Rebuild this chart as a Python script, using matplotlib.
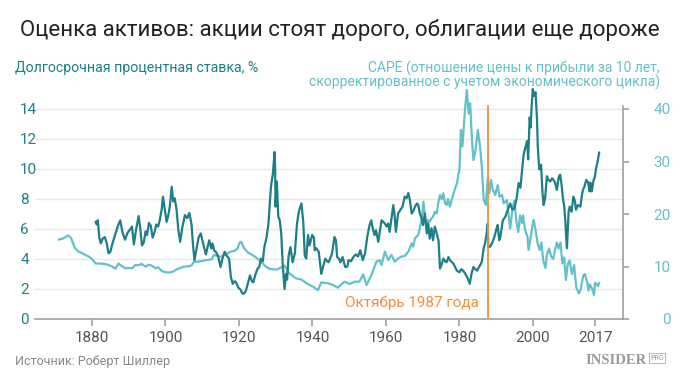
import matplotlib
matplotlib.use('Agg')
import matplotlib.pyplot as plt

DARK = '#1d7f87'
LIGHT = '#62c1ca'
ORANGE = '#f0913a'

TITLE = 'Оценка активов: акции стоят дорого, облигации еще дороже'
LEFT_LABEL = 'Долгосрочная процентная ставка, %'
RIGHT_LABEL_1 = 'CAPE (отношение цены к прибыли за 10 лет,'
RIGHT_LABEL_2 = 'скорректированное с учетом экономического цикла)'
EVENT_LABEL = 'Октябрь 1987 года'
SOURCE = 'Источник: Роберт Шиллер'

# CAPE (drawn dark, right axis)
cape_years = [
    1881.0, 1881.3, 1881.6, 1882.0, 1882.4, 1882.9, 1883.5, 1884.0, 1884.5, 1885.0,
    1885.5, 1886.2, 1887.0, 1887.7, 1888.3, 1889.0, 1889.6, 1890.3, 1890.9, 1891.4,
    1892.0, 1892.7, 1893.1, 1893.6, 1894.1, 1894.6, 1895.0, 1895.5, 1896.0, 1896.5,
    1897.0, 1897.5, 1898.0, 1898.5, 1899.0, 1899.3, 1899.8, 1900.3, 1900.7, 1901.2,
    1901.7, 1902.1, 1902.5, 1903.0, 1903.5, 1904.0, 1904.6, 1905.3, 1905.9, 1906.5,
    1907.1, 1907.5, 1907.9, 1908.5, 1909.0, 1909.6, 1910.1, 1910.6, 1911.0, 1911.5,
    1911.9, 1912.5, 1912.8, 1913.3, 1913.7, 1914.3, 1915.0, 1915.5, 1916.1, 1916.7,
    1917.3, 1917.8, 1918.3, 1918.8, 1919.2, 1919.8, 1920.4, 1921.0, 1921.5, 1921.9,
    1922.5, 1923.0, 1923.5, 1923.9, 1924.5, 1925.0, 1925.5, 1926.0, 1926.5, 1926.9,
    1927.5, 1928.0, 1928.7, 1929.2, 1929.7, 1929.85, 1929.95, 1930.3, 1930.7, 1931.1,
    1931.5, 1931.9, 1932.4, 1932.8, 1933.1, 1933.5, 1934.0, 1934.6, 1935.2, 1935.8,
    1936.3, 1937.0, 1937.5, 1937.9, 1938.3, 1938.8, 1939.2, 1939.9, 1940.4, 1940.6,
    1941.0, 1941.7, 1942.4, 1942.9, 1943.5, 1944.0, 1944.4, 1945.3, 1946.0, 1946.4,
    1946.7, 1947.2, 1947.6, 1948.2, 1948.9, 1949.5, 1949.8, 1950.5, 1951.2, 1951.8,
    1952.4, 1953.0, 1953.7, 1954.3, 1954.9, 1955.5, 1956.0, 1956.3, 1956.9, 1957.3,
    1957.9, 1958.8, 1959.7, 1960.2, 1960.6, 1961.0, 1962.0, 1962.3, 1962.7, 1963.3,
    1964.5, 1965.1, 1965.6, 1966.1, 1966.5, 1967.0, 1967.4, 1967.9, 1968.4, 1968.8,
    1969.2, 1969.7, 1970.1, 1970.6, 1971.1, 1971.5, 1971.9, 1972.4, 1972.8, 1973.3,
    1973.8, 1974.3, 1974.7, 1975.2, 1975.6, 1976.1, 1976.5, 1977.0, 1977.4, 1978.4,
    1979.3, 1980.0, 1980.5, 1981.0, 1981.6, 1982.2, 1982.8, 1983.3, 1983.8, 1984.3,
    1984.8, 1985.3, 1985.7, 1986.1, 1986.6, 1987.0, 1987.4, 1987.7, 1987.85, 1988.4,
    1988.9, 1989.5, 1990.0, 1990.4, 1990.8, 1991.1, 1991.8, 1992.5, 1993.0, 1993.8,
    1994.4, 1994.9, 1995.5, 1996.1, 1996.6, 1997.0, 1997.5, 1997.9, 1998.4, 1998.7,
    1999.1, 1999.4, 1999.6, 1999.95, 2000.3, 2000.7, 2001.1, 2001.3, 2001.7, 2002.2,
    2002.6, 2002.9, 2003.3, 2003.8, 2004.2, 2004.7, 2005.2, 2005.6, 2006.0, 2006.5,
    2007.0, 2007.4, 2007.8, 2008.1, 2008.5, 2008.8, 2009.0, 2009.25, 2009.7, 2010.0,
    2010.5, 2011.0, 2011.4, 2011.7, 2012.2, 2012.9, 2013.3, 2013.6, 2014.0, 2014.5,
    2015.0, 2015.4, 2015.6, 2016.0, 2016.5, 2016.8, 2017.2, 2017.6, 2018.0,
]
cape_values = [
    18.5, 18.0, 18.8, 15.5, 14.4, 15.3, 15.6, 14.5, 12.5, 12.8,
    14.2, 15.8, 17.6, 18.8, 16.5, 15.1, 16.3, 17.0, 17.6, 14.2,
    17.0, 19.6, 17.5, 14.0, 14.6, 16.7, 16.0, 18.3, 17.8, 15.5,
    16.5, 18.0, 17.6, 19.0, 21.0, 23.3, 21.0, 18.5, 19.5, 21.5,
    25.2, 22.4, 23.0, 21.0, 17.0, 14.7, 17.5, 19.8, 19.2, 20.2,
    18.0, 14.0, 11.2, 13.5, 15.5, 16.3, 14.8, 13.4, 12.3, 13.8,
    15.0, 13.4, 14.4, 13.0, 12.8, 12.0, 9.9, 11.5, 12.8, 12.0,
    11.5, 8.0, 6.7, 7.2, 7.0, 6.0, 5.6, 4.8, 4.9, 5.4,
    7.0, 8.3, 7.2, 7.0, 8.5, 9.5, 9.9, 11.5, 11.0, 13.7,
    15.5, 18.0, 25.2, 27.5, 31.8, 28.5, 21.4, 26.2, 19.5, 18.8,
    16.3, 10.5, 5.7, 8.6, 7.5, 12.0, 13.7, 10.8, 12.5, 18.2,
    20.5, 22.0, 18.5, 12.1, 11.5, 16.0, 14.0, 16.0, 15.5, 13.1,
    13.5, 12.8, 8.6, 10.0, 11.5, 11.0, 10.8, 12.4, 15.6, 15.0,
    11.8, 11.5, 10.8, 11.8, 9.9, 10.0, 11.2, 11.0, 11.9, 12.3,
    11.9, 13.1, 11.2, 12.5, 15.6, 17.8, 18.8, 17.6, 16.0, 16.9,
    14.7, 18.8, 18.2, 17.6, 18.2, 16.6, 21.7, 20.1, 16.6, 20.1,
    21.4, 23.3, 23.0, 24.0, 22.7, 20.1, 20.5, 21.4, 22.0, 21.7,
    20.1, 19.2, 17.9, 20.1, 16.3, 18.2, 15.3, 17.3, 15.0, 17.6,
    16.3, 15.0, 9.6, 10.5, 11.5, 11.0, 10.8, 11.8, 11.2, 10.5,
    9.2, 8.9, 9.5, 9.2, 8.6, 7.8, 6.7, 8.7, 9.9, 9.5,
    9.2, 9.9, 10.3, 11.0, 13.5, 14.5, 16.3, 18.2, 13.7, 13.8,
    14.5, 15.6, 17.0, 17.9, 15.0, 15.5, 18.8, 19.5, 20.5, 22.0,
    20.8, 21.0, 22.7, 25.9, 25.0, 28.1, 31.5, 32.6, 33.9, 30.4,
    38.4, 36.5, 40.0, 43.8, 42.5, 43.2, 38.1, 33.0, 28.5, 29.4,
    24.0, 21.7, 23.0, 27.2, 26.5, 26.2, 26.8, 26.5, 26.0, 24.6,
    27.0, 27.5, 25.5, 23.3, 21.5, 18.8, 16.0, 13.5, 20.5, 21.4,
    20.4, 23.3, 22.5, 20.8, 21.7, 21.4, 23.5, 24.6, 25.2, 26.5,
    26.0, 24.3, 26.0, 24.3, 26.5, 26.9, 28.8, 30.0, 31.7,
]

# long-term interest rate, % (drawn light, left axis)
rate_years = [
    1871.0, 1872.0, 1873.0, 1873.5, 1874.3, 1875.3, 1876.3, 1877.2, 1878.2, 1879.2,
    1880.0, 1881.0, 1882.0, 1883.0, 1884.1, 1885.5, 1886.4, 1887.2, 1888.0, 1889.1,
    1890.0, 1890.9, 1891.8, 1892.6, 1893.5, 1894.6, 1895.4, 1896.3, 1897.3, 1898.0,
    1899.0, 1900.0, 1901.0, 1902.0, 1903.0, 1904.0, 1905.0, 1906.0, 1907.0, 1907.8,
    1908.8, 1909.6, 1910.5, 1911.4, 1912.6, 1913.2, 1914.1, 1915.0, 1915.8, 1916.9,
    1917.8, 1918.9, 1919.6, 1920.2, 1920.6, 1921.4, 1922.5, 1923.3, 1924.6, 1926.0,
    1927.3, 1928.3, 1929.2, 1930.5, 1932.4, 1933.7, 1935.5, 1936.9, 1938.7, 1940.1,
    1941.5, 1942.4, 1944.2, 1945.6, 1946.9, 1948.7, 1950.1, 1951.5, 1952.8, 1953.8,
    1954.7, 1956.0, 1957.4, 1958.3, 1958.8, 1959.7, 1960.6, 1961.5, 1962.4, 1963.3,
    1964.2, 1965.1, 1966.1, 1967.0, 1967.4, 1967.9, 1968.8, 1969.7, 1970.2, 1970.6,
    1971.1, 1971.5, 1971.9, 1972.4, 1972.8, 1973.3, 1973.8, 1974.3, 1974.7, 1975.2,
    1975.6, 1976.1, 1976.5, 1976.9, 1977.4, 1978.4, 1979.3, 1980.0, 1980.4, 1980.8,
    1981.5, 1982.0, 1982.5, 1982.9, 1983.4, 1983.8, 1984.3, 1985.0, 1985.6, 1986.1,
    1986.6, 1987.2, 1987.7, 1988.1, 1988.6, 1989.1, 1989.7, 1990.4, 1990.9, 1991.6,
    1992.0, 1992.9, 1993.8, 1994.4, 1994.9, 1995.5, 1996.0, 1996.5, 1997.0, 1997.3,
    1997.9, 1998.5, 1998.8, 1999.3, 1999.9, 2000.2, 2000.8, 2001.3, 2001.8, 2002.3,
    2002.8, 2003.4, 2003.8, 2004.4, 2004.9, 2005.5, 2005.9, 2006.5, 2007.0, 2007.5,
    2008.0, 2008.5, 2008.95, 2009.5, 2010.0, 2010.6, 2011.2, 2011.8, 2012.5, 2013.0,
    2013.7, 2014.1, 2014.8, 2015.1, 2015.5, 2016.1, 2016.6, 2016.9, 2017.4, 2017.7,
    2018.0,
]
rate_values = [
    5.3, 5.35, 5.5, 5.58, 5.4, 4.75, 4.5, 4.4, 4.27, 4.15,
    4.0, 3.7, 3.7, 3.68, 3.64, 3.5, 3.35, 3.7, 3.55, 3.38,
    3.4, 3.38, 3.6, 3.58, 3.67, 3.49, 3.62, 3.55, 3.38, 3.45,
    3.2, 3.12, 3.1, 3.15, 3.3, 3.4, 3.49, 3.5, 3.56, 3.82,
    3.82, 3.85, 3.9, 3.93, 3.98, 4.27, 4.2, 4.15, 4.25, 4.38,
    4.49, 4.56, 4.71, 5.1, 5.15, 4.71, 4.42, 4.33, 4.11, 3.82,
    3.49, 3.35, 3.31, 3.31, 3.56, 3.04, 2.71, 2.64, 2.33, 2.16,
    1.93, 2.44, 2.38, 2.27, 2.09, 2.49, 2.33, 2.49, 2.49, 2.98,
    2.27, 2.9, 3.82, 3.93, 3.6, 4.49, 3.93, 4.27, 3.82, 4.04,
    4.16, 4.2, 4.49, 5.04, 4.82, 5.38, 5.6, 6.6, 7.82, 6.82,
    6.15, 6.6, 6.49, 6.71, 6.82, 7.15, 7.04, 7.82, 8.27, 8.0,
    8.38, 7.71, 7.6, 8.0, 7.49, 8.38, 9.04, 10.04, 12.6, 11.5,
    13.93, 15.27, 13.7, 14.38, 11.93, 10.6, 11.15, 12.6, 11.5, 10.1,
    7.93, 7.6, 9.38, 8.38, 9.27, 8.6, 8.27, 8.93, 8.15, 8.27,
    7.71, 7.93, 6.04, 7.3, 7.9, 6.5, 5.8, 6.9, 6.4, 6.9,
    5.9, 5.5, 4.6, 5.3, 6.3, 6.6, 5.8, 5.0, 4.6, 5.1,
    3.9, 3.4, 4.3, 4.7, 4.2, 4.0, 4.5, 5.1, 4.7, 5.1,
    3.7, 4.1, 2.6, 3.7, 3.9, 3.0, 3.6, 2.1, 1.7, 2.0,
    2.9, 3.0, 2.4, 1.9, 2.3, 2.0, 1.6, 2.4, 2.3, 2.2,
    2.4,
]

event_year = 1987.8
x_ticks = [1880, 1900, 1920, 1940, 1960, 1980, 2000, 2017]
left_ticks = [0, 2, 4, 6, 8, 10, 12, 14]
right_ticks = [0, 10, 20, 30, 40]

plt.rcParams['font.family'] = ['Roboto', 'DejaVu Sans']

W, H = 680, 382
fig = plt.figure(figsize=(W / 100, H / 100), dpi=100)
ax = fig.add_axes([35 / W, 1 - 319 / H, (623 - 35) / W, (319 - 85) / H])
ax2 = ax.twinx()

top = (319 - 85) / 15.0
ax.set_ylim(0, top)
ax2.set_ylim(0, top * 40 / 14)
ax.set_xlim(1864.5, 2024.5)

ax.plot(rate_years, rate_values, color=LIGHT, lw=1.6, zorder=3)
ax2.plot(cape_years, cape_values, color=DARK, lw=1.6, zorder=3)
ax2.plot([event_year, event_year], [0, 40.6], color=ORANGE, lw=1.3, zorder=4)
ax2.text(event_year - 2.5, 3.0, EVENT_LABEL, color=ORANGE, fontsize=11,
         ha='right', va='center')

# grid and spines
ax.set_yticks(left_ticks)
ax.grid(axis='y', color='#e8e8e8', lw=1.0)
ax.set_axisbelow(True)
for a in (ax, ax2):
    for s in ('top', 'left', 'right', 'bottom'):
        a.spines[s].set_visible(False)
ax.spines['bottom'].set_visible(True)
ax.spines['bottom'].set_color('#a0a0a0')
ax.spines['bottom'].set_linewidth(1.2)
ax2.spines['right'].set_visible(True)
ax2.spines['right'].set_color('#a0a0a0')
ax2.spines['right'].set_linewidth(1.2)
ax2.spines['right'].set_bounds(0, 40.6)

ax.set_xticks(x_ticks)
ax.set_xticklabels([str(t) for t in x_ticks])
ax.tick_params(axis='x', colors='#a0a0a0', labelcolor='#555555', length=5,
               width=1.2, labelsize=11, pad=4)
ax.tick_params(axis='y', length=0, labelcolor=DARK, labelsize=11, pad=10.7)
for lbl in ax.get_yticklabels():
    lbl.set_horizontalalignment('left')

ax2.set_yticks(right_ticks)
ax2.tick_params(axis='y', colors='#a0a0a0', labelcolor=LIGHT, length=4,
                width=1.2, labelsize=11, pad=30.5)
for lbl in ax2.get_yticklabels():
    lbl.set_horizontalalignment('right')

# texts
fig.text(0.5, 1 - 30 / H, TITLE, ha='center', va='center', fontsize=16,
         color='#222222')
fig.text(15 / W, 1 - 68 / H, LEFT_LABEL, ha='left', va='center', fontsize=10.2,
         color=DARK)
fig.text(660 / W, 1 - 68 / H, RIGHT_LABEL_1, ha='right', va='center',
         fontsize=10, color=LIGHT)
fig.text(660 / W, 1 - 82 / H, RIGHT_LABEL_2, ha='right', va='center',
         fontsize=10, color=LIGHT)
fig.text(15 / W, 1 - 361 / H, SOURCE, ha='left', va='center', fontsize=9,
         color='#888888')
fig.text(647 / W, 1 - 361 / H, 'INSIDER', ha='right', va='center', fontsize=10.5,
         family=['Liberation Serif', 'DejaVu Serif'], weight='bold', color='#9a9a9a')
fig.text(650 / W, 1 - 358 / H, 'PRO', ha='left', va='center', fontsize=5,
         color='#9a9a9a', bbox=dict(boxstyle='square,pad=0.15', fc='none',
                                    ec='#9a9a9a', lw=0.5))

fig.savefig('out.png', dpi=100, facecolor='white')
